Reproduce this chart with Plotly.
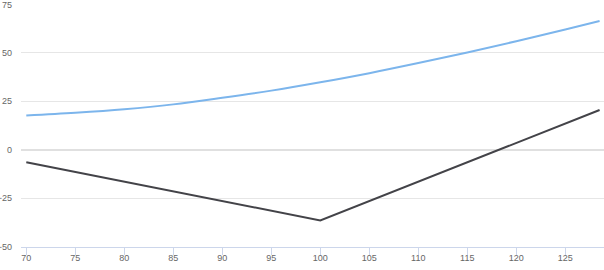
import plotly.graph_objects as go

# Blue curve (value before expiry)
curve_x = [70, 75, 80, 85, 90, 95, 100, 105, 110, 115, 120, 125, 128.5]
curve_y = [17.7, 19.1, 20.9, 23.4, 26.8, 30.5, 34.8, 39.5, 44.7, 50.2, 56.0, 62.0, 66.4]

# Black payoff line
payoff_x = [70, 100, 128.5]
payoff_y = [-6.5, -36.5, 20.5]

x_ticks = [70, 75, 80, 85, 90, 95, 100, 105, 110, 115, 120, 125]
y_ticks = [-50, -25, 0, 25, 50, 75]

fig = go.Figure()
fig.add_trace(go.Scatter(x=curve_x, y=curve_y, mode="lines",
                         line=dict(color="#7cb5ec", width=2, shape="spline"),
                         hoverinfo="skip"))
fig.add_trace(go.Scatter(x=payoff_x, y=payoff_y, mode="lines",
                         line=dict(color="#434348", width=2),
                         hoverinfo="skip"))

fig.update_layout(
    width=604, height=270,
    margin=dict(l=21, r=0, t=4, b=23),
    paper_bgcolor="white", plot_bgcolor="white",
    showlegend=False,
    font=dict(family="Liberation Sans, Arial, sans-serif", size=9, color="#666666"),
    xaxis=dict(range=[69.46, 128.95], tickvals=x_ticks,
               showgrid=False, zeroline=False,
               showline=True, linecolor="#ccd6eb", linewidth=1,
               ticks="outside", ticklen=7, tickcolor="#ccd6eb",
               ticklabelstandoff=-5, ticklabeloverflow="allow",
               automargin=False, fixedrange=True),
    yaxis=dict(range=[-50.2, 75.2], tickvals=y_ticks,
               showgrid=True, gridcolor="#e6e6e6", gridwidth=1,
               zeroline=True, zerolinecolor="#e0e0e0", zerolinewidth=2,
               showline=False, ticks="", ticklabelstandoff=8,
               ticklabeloverflow="allow",
               automargin=False, fixedrange=True),
)

fig.write_html("out.html")
